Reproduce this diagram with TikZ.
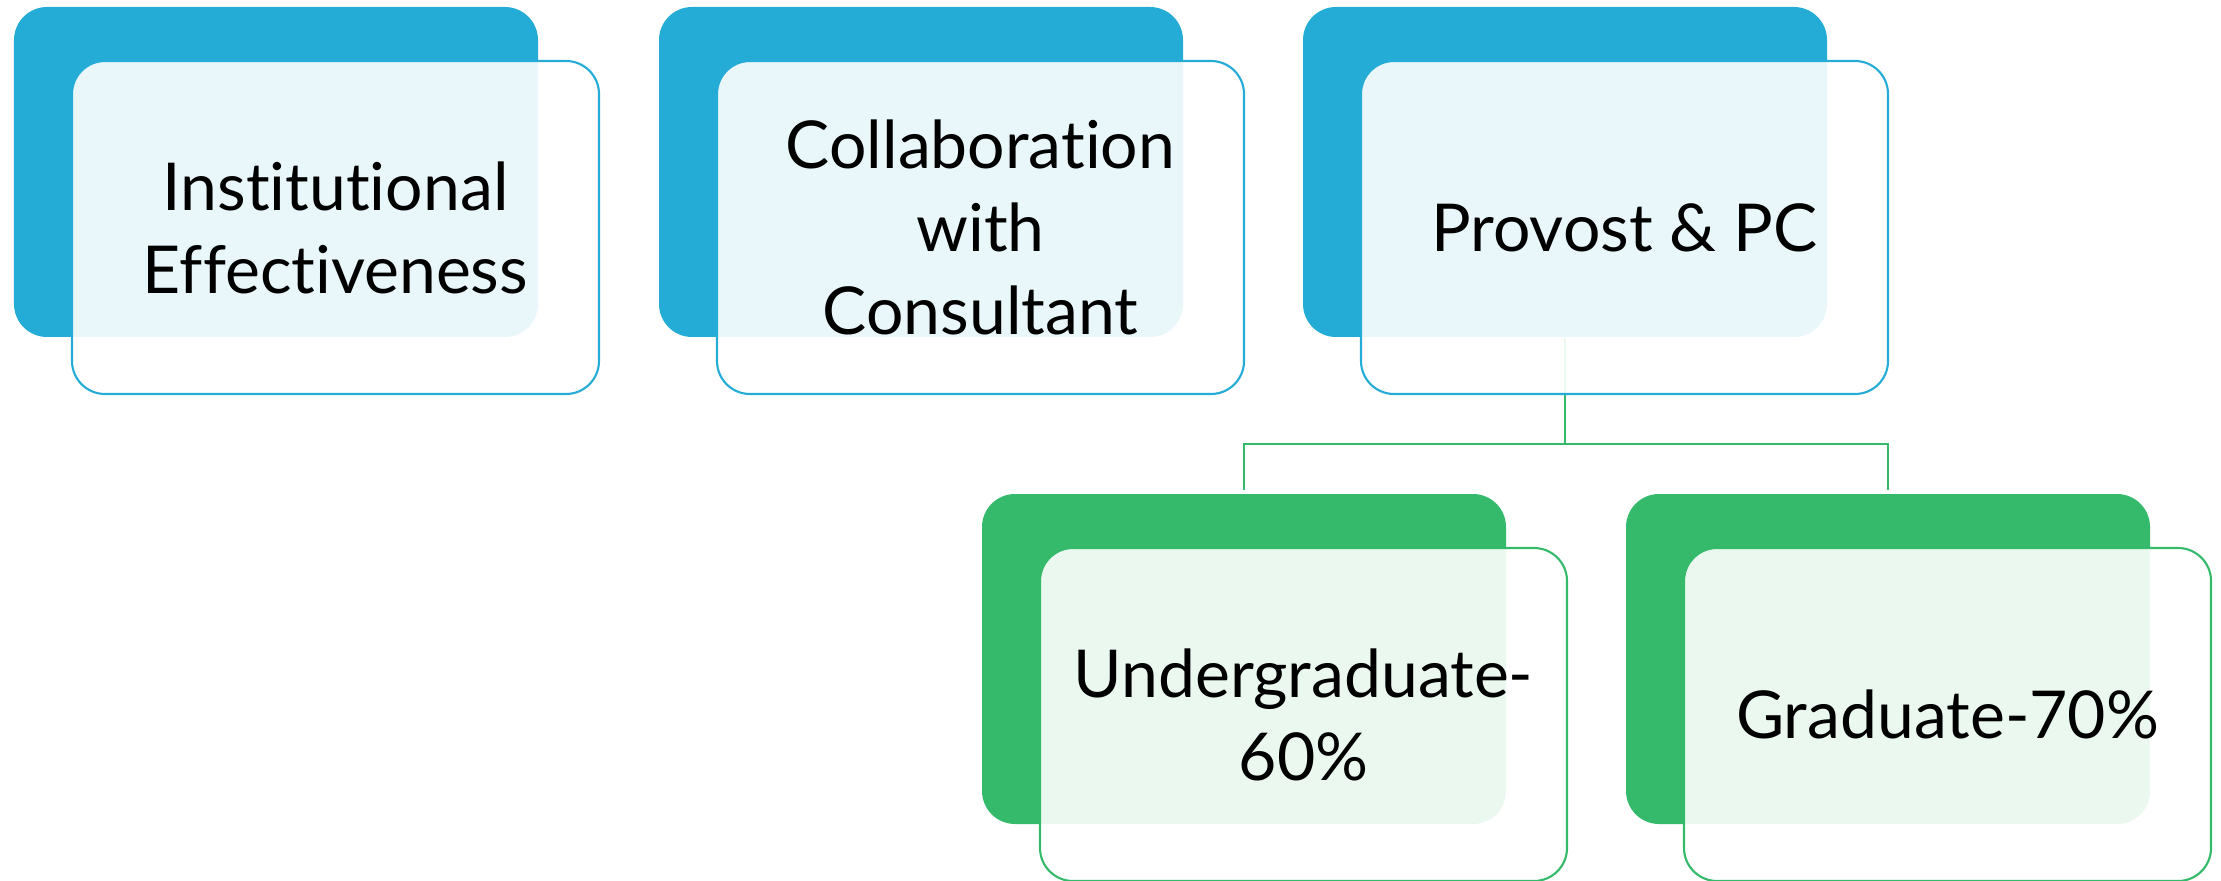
\documentclass[tikz,border=0pt]{standalone}
\usepackage{fontspec}
\setmainfont{Lato}[Ligatures={CommonOff}]
\usepackage{tikz}
\usetikzlibrary{positioning}
\definecolor{boxblue}{HTML}{25ACD6}
\definecolor{boxgreen}{HTML}{34BA6A}
\tikzset{
  backbox/.style={rounded corners=0.33cm, minimum width=5.24cm, minimum height=3.30cm, inner sep=0pt, fill=#1},
  frontbox/.style={rounded corners=0.33cm, minimum width=5.27cm, minimum height=3.33cm, inner sep=0pt,
    draw=#1, line width=0.6pt, fill=white, fill opacity=0.9, text opacity=1,
    align=center, font=\fontsize{18.8}{23.6}\selectfont},
  link/.style={draw=boxgreen, line width=0.6pt}
}
\begin{document}
\begin{tikzpicture}
\useasboundingbox (0,0) rectangle (22.21,-8.81);

% back boxes
\node[backbox=boxblue] (ieb) at (2.76,-1.72) {};
\node[backbox=boxblue] (ccb) at (9.21,-1.72) {};
\node[backbox=boxblue] (pcb) at (15.65,-1.72) {};
\node[backbox=boxgreen] (ugb) at (12.44,-6.59) {};
\node[backbox=boxgreen] (grb) at (18.88,-6.59) {};

% links
\draw[link, shorten >=0.3mm] (pcb.south) -- ++(0,-1.06) -| (ugb.north);
\draw[link, shorten >=0.3mm] (pcb.south) -- ++(0,-1.06) -| (grb.north);

% front boxes
\node[frontbox=boxblue] (ie) at ([shift={(0.595,-0.555)}]ieb.center) {Institutional\\Effectiveness};
\node[frontbox=boxblue] (cc) at ([shift={(0.595,-0.555)}]ccb.center) {Collaboration\\with\\Consultant};
\node[frontbox=boxblue] (pc) at ([shift={(0.595,-0.555)}]pcb.center) {Provost \& PC};
\node[frontbox=boxgreen] (ug) at ([shift={(0.595,-0.555)}]ugb.center) {Undergraduate-\\60\%};
\node[frontbox=boxgreen] (gr) at ([shift={(0.595,-0.555)}]grb.center) {Graduate-70\%};
\end{tikzpicture}
\end{document}
